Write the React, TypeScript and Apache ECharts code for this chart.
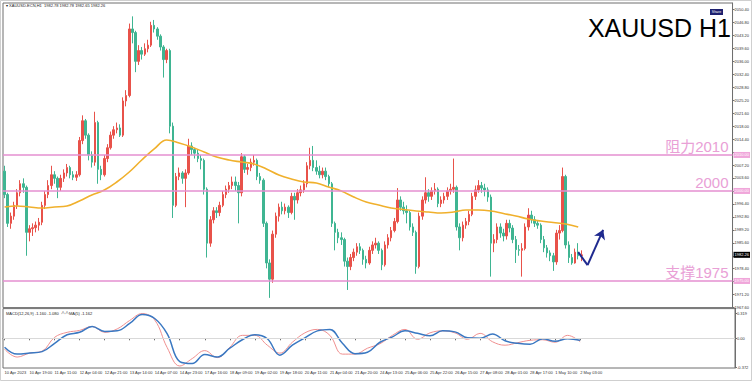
import React, { useEffect, useRef } from "react";
import * as echarts from "echarts";

// ---------- data ----------
const tickLabels = [
  "10 Apr 2023", "10 Apr 19:00", "11 Apr 11:00", "12 Apr 04:00", "12 Apr 21:00", "13 Apr 14:00",
  "14 Apr 07:00", "14 Apr 23:00", "17 Apr 16:00", "18 Apr 09:00", "19 Apr 02:00", "19 Apr 18:00",
  "20 Apr 11:00", "21 Apr 04:00", "21 Apr 20:00", "24 Apr 13:00", "25 Apr 06:00", "25 Apr 22:00",
  "26 Apr 15:00", "27 Apr 08:00", "28 Apr 01:00", "28 Apr 17:00", "1 May 10:00", "2 May 03:00",
];

const priceTicks = [
  1967.6, 1971.2, 1974.8, 1978.4, 1982.0, 1985.6, 1989.2, 1992.8, 1996.4, 2000.0, 2003.6, 2007.2,
  2010.8, 2014.4, 2018.0, 2021.6, 2025.2, 2028.8, 2032.4, 2036.0, 2039.6, 2043.2, 2046.8, 2050.4,
];

const opens = [
  2005.5, 1999, 1991, 1993, 1996, 1999.5, 2002, 2001, 1988.5, 1989.5, 1989.8, 1990.5, 1991.3, 1996, 1999, 2001.5,
  2004.5, 2003.5, 2001, 2003.5, 2005, 2006.5, 2004.5, 2003.8, 2004.5, 2014, 2019.5, 2015.5, 2010, 2008, 2019, 2006,
  2004.5, 2009, 2012, 2015.5, 2017, 2017.5, 2015.5, 2025, 2026.5, 2045, 2044, 2036, 2039, 2038, 2039.5, 2040.5,
  2046, 2045, 2043, 2040, 2036.5, 2039, 2018, 1996, 2004, 2005, 2003.5, 2005, 2012.5, 2011.5, 2010.5, 2009,
  2008.5, 2000.5, 1985.5, 1992, 1994.5, 1994, 1996, 1999, 2000.5, 2001.5, 2002.5, 2001.5, 1999.5, 2009.5, 2006, 2006.5,
  2008, 2008.5, 2004, 2003, 1991, 1980, 1975.5, 1988, 1993, 1995.5, 1994.5, 1995.5, 1994, 1998.5, 1997.5, 1999.5,
  2000.3, 2002, 2007, 2008.5, 2006.5, 2005.5, 2004.5, 2005.5, 2004, 2002, 1991, 1988.5, 1987, 1986.5, 1980.5, 1979,
  1981.5, 1983, 1984.5, 1983.5, 1981, 1980, 1983.5, 1985, 1985.5, 1983.5, 1979.5, 1985, 1987, 1989, 1991.5, 1997.5,
  1995.5, 1994.5, 1994, 1990, 1988.5, 1979, 1993, 1997.5, 1999.5, 1998.5, 2000, 2000.5, 1996.5, 1997.5, 1998.5, 2000,
  2000.5, 2001, 1990, 1987, 1990.5, 1991.5, 1993.5, 1998.5, 2000.3, 2001.5, 2000.8, 2000.3, 1998.3, 1985.5, 1986.5, 1990,
  1988.3, 1987.5, 1991, 1989.7, 1986.5, 1983.7, 1983.5, 1984, 1990, 1993.3, 1992, 1991, 1990.5, 1986.5, 1984.2, 1982.8,
  1982, 1980.3, 1988.3, 1989, 2004, 1985, 1981.5, 1980, 1983, 1982,
];
const closes = [
  1999, 1991, 1993, 1996, 1999.5, 2002, 2001, 1988.5, 1989.5, 1989.8, 1990.5, 1991.3, 1996, 1999, 2001.5, 2004.5,
  2003.5, 2001, 2003.5, 2005, 2006.5, 2004.5, 2003.8, 2004.5, 2014, 2019.5, 2015.5, 2010, 2008, 2019, 2006, 2004.5,
  2009, 2012, 2015.5, 2017, 2017.5, 2015.5, 2025, 2026.5, 2045, 2044, 2036, 2039, 2038, 2039.5, 2040.5, 2046,
  2045, 2043, 2040, 2036.5, 2039, 2018, 1996, 2004, 2005, 2003.5, 2005, 2012.5, 2011.5, 2010.5, 2009, 2008.5,
  2000.5, 1985.5, 1992, 1994.5, 1994, 1996, 1999, 2000.5, 2001.5, 2002.5, 2001.5, 1999.5, 2009.5, 2006, 2006.5, 2008,
  2008.5, 2004, 2003, 1991, 1980, 1975.5, 1988, 1993, 1995.5, 1994.5, 1995.5, 1994, 1998.5, 1997.5, 1999.5, 2000.3,
  2002, 2007, 2008.5, 2006.5, 2005.5, 2004.5, 2005.5, 2004, 2002, 1991, 1988.5, 1987, 1986.5, 1980.5, 1979, 1981.5,
  1983, 1984.5, 1983.5, 1981, 1980, 1983.5, 1985, 1985.5, 1983.5, 1979.5, 1985, 1987, 1989, 1991.5, 1997.5, 1995.5,
  1994.5, 1994, 1990, 1988.5, 1979, 1993, 1997.5, 1999.5, 1998.5, 2000, 2000.5, 1996.5, 1997.5, 1998.5, 2000, 2000.5,
  2001, 1990, 1987, 1990.5, 1991.5, 1993.5, 1998.5, 2000.3, 2001.5, 2000.8, 2000.3, 1998.3, 1985.5, 1986.5, 1990, 1988.3,
  1987.5, 1991, 1989.7, 1986.5, 1983.7, 1983.5, 1984, 1990, 1993.3, 1992, 1991, 1990.5, 1986.5, 1984.2, 1982.8, 1982,
  1980.3, 1988.3, 1989, 2004, 1985, 1981.5, 1980, 1983, 1982, 1982.26,
];
const highs = [
  2007, 1999.5, 1994, 1997, 2000.5, 2003, 2003.5, 2001.5, 1990.5, 1991, 1991.5, 1992.5, 1997, 2000, 2003, 2007,
  2005.5, 2004, 2004.5, 2006, 2007.5, 2007, 2005.5, 2005.5, 2015, 2021, 2020, 2016, 2011, 2022, 2019.5, 2007,
  2010, 2013, 2016.5, 2018, 2019, 2018.5, 2026, 2028, 2046.5, 2048.5, 2044.5, 2040.5, 2040, 2041, 2042, 2047,
  2047.5, 2045.5, 2043.5, 2040.5, 2039.5, 2039.5, 2019, 2005, 2006.5, 2005.5, 2006, 2014.5, 2013.5, 2012, 2011.5, 2010,
  2009, 2001, 1993, 1995.5, 1995.5, 1997, 2000, 2001.5, 2002.5, 2004, 2004, 2002.5, 2010.5, 2010, 2007.5, 2009,
  2010, 2009, 2005, 2003.5, 1991.5, 1981, 1989, 1994, 1996.5, 1997, 1996.5, 1996, 1999.5, 1999.5, 2000.5, 2001.5,
  2003, 2008, 2012, 2012.5, 2008.5, 2007, 2006.5, 2006.5, 2004.5, 2002.5, 1991.5, 1989.5, 1988.5, 1987, 1981.5, 1982.5,
  1984, 1985.5, 1985.5, 1984, 1982, 1984.5, 1986, 1987, 1986, 1984, 1986, 1988, 1990, 1992.5, 2000.8, 1998.5,
  1997, 1996, 1994.5, 1991, 1989, 1994, 1998.5, 2003.8, 2000.5, 2001, 2002.2, 2001, 1998.5, 1999.5, 2001, 2002,
  2009, 2001.5, 1991, 1991.5, 1992.5, 1994.5, 1999.5, 2001.5, 2003, 2002.5, 2002, 2001, 1999, 1988, 1991, 1991,
  1989.5, 1992, 1992, 1990.5, 1987.5, 1985, 1985.5, 1991, 1995.2, 1994.5, 1993, 1991.8, 1991, 1987.5, 1985, 1983.5,
  1982.8, 1989.2, 1990.5, 2006.5, 2004.5, 1986, 1982.5, 1984, 1985.5, 1983.5,
];
const lows = [
  1998, 1990, 1989.5, 1992, 1995, 1998.5, 1999.5, 1982, 1986, 1987.5, 1988.5, 1989, 1990.5, 1995, 1998, 2000.5,
  2002, 1998, 2000, 2002.5, 2004, 2003.5, 2003, 2002.8, 2004, 2013, 2014.5, 2008.5, 2006.5, 2007, 2002, 2003,
  2004, 2008, 2011.5, 2014.5, 2016, 2015, 2015, 2023.5, 2026, 2041, 2033, 2035, 2036.5, 2037.5, 2038.5, 2040,
  2044, 2042, 2039, 2031.5, 2035.5, 2016, 1992.5, 1995.5, 2003, 2002, 1995.5, 2004.5, 2010, 2009, 2008, 2006,
  1999, 1981.5, 1984.5, 1991, 1992.5, 1993, 1995.5, 1998, 1999.5, 2000.5, 2000, 1991, 1998.5, 2005, 2004.5, 2005.5,
  2007, 2003, 2002, 1990, 1978.5, 1970.3, 1974.5, 1987, 1991.5, 1993.5, 1993.5, 1992.5, 1993.5, 1992, 1996.5, 1998.5,
  1999.5, 2001, 2006, 2005.5, 2004.5, 2003.5, 2003.5, 2003, 2001, 1990, 1983.5, 1985.5, 1985, 1979, 1972.5, 1978,
  1980.5, 1982, 1982.5, 1979.5, 1978.5, 1979.5, 1982.5, 1984, 1982.5, 1978, 1979, 1984, 1986, 1988.5, 1991, 1994.5,
  1993.5, 1991, 1989, 1987.5, 1977, 1978.5, 1992, 1996.5, 1997, 1997.5, 1999, 1995.5, 1995.5, 1996.5, 1997.5, 1999,
  1999.5, 1989, 1983.5, 1986, 1989.5, 1990.5, 1993, 1997.5, 1999.5, 1999.5, 1998.5, 1997, 1976.2, 1983, 1985.5, 1987,
  1986, 1986.5, 1988.5, 1985.5, 1980, 1982, 1976.2, 1983.5, 1989, 1991, 1990, 1989.5, 1985.5, 1983, 1981.5, 1980.5,
  1977.8, 1979.5, 1986.5, 1988.5, 1984, 1980, 1979.5, 1979.8, 1981, 1980.5,
];

// moving average, one reading every 4 candles
const maValues = [
  1995.54, 1995.82, 1995.54, 1995.27, 1995.54, 1995.82, 1997.21, 1998.88, 2000.26, 2002.49, 2005.27, 2008.6,
  2011.66, 2014.15, 2013.32, 2012.21, 2010.82, 2009.43, 2008.6, 2008.04, 2007.49, 2006.1, 2004.43, 2003.32,
  2002.49, 2002.21, 2001.1, 1999.99, 1998.32, 1996.93, 1996.1, 1995.27, 1994.85, 1994.43, 1994.15, 1993.88,
  1994.15, 1994.71, 1994.71, 1994.43, 1993.74, 1993.04, 1992.21, 1991.65, 1991.24, 1990.82, 1989.99,
];
// MACD panel, one reading every 4 candles
const macdBlue = [
  -0.115, -0.204, -0.191, -0.172, -0.064, 0.045, 0.077, 0.153, 0.089, 0.096, 0.191, 0.306,
  0.255, 0.057, -0.3, -0.325, -0.21, -0.242, -0.128, -0.019, 0.045, -0.006, -0.217, -0.089,
  0.006, 0.096, 0.115, -0.064, -0.198, -0.179, -0.051, 0.019, 0.096, 0.064, 0.032, 0.096,
  0.083, 0.006, 0.0, 0.057, -0.032, -0.064, -0.077, -0.006, -0.038, -0.006, -0.026,
];
const macdRed = [
  -0.14, -0.242, -0.191, -0.166, 0.013, 0.077, 0.102, 0.153, 0.077, 0.121, 0.23, 0.319,
  0.236, -0.121, -0.357, -0.261, -0.159, -0.249, -0.115, 0.038, 0.038, -0.089, -0.191, -0.051,
  0.07, 0.115, 0.038, -0.204, -0.204, -0.128, -0.07, 0.038, 0.115, -0.013, 0.07, 0.096,
  0.07, -0.013, 0.064, -0.045, -0.089, -0.057, -0.026, -0.019, -0.051, 0.038, -0.045,
];
const macdTicks = [0.319, 0, -0.372];

const levels = [2010, 2000, 1975];
const levelTexts = ["阻力2010", "2000", "支撑1975"];
const lastPrice = 1982.26;
// arrow path: [candle index, price]
const arrowPoints = [[184, 1983.0], [187, 1979.4], [192, 1989.2]];

const headerText = "▾ XAUUSD-ECN,H1  1982.78 1982.78 1982.65 1982.26";
const macdHeader = "MACD(12,26,9) -1.160 -1.080  ∧∧MA(5) -1.162";
const titleText = "XAUUSD H1";

// ---------- layout ----------
const SLOTS = 234;
const SAMPLE_STEP = 4;
const PINK = "#e58fd0";
const PINK_TEXT = "#e9a0d6";
const UP = "#e8524a";
const DOWN = "#3fb592";
const FONT = "Liberation Sans, Noto Sans CJK SC, sans-serif";

function sparse(values: number[], step: number, length: number) {
  const out: (number | null)[] = new Array(length).fill(null);
  values.forEach((v, i) => {
    if (i * step < length) out[i * step] = v;
  });
  return out;
}

export default function App() {
  const ref = useRef<HTMLDivElement>(null);

  useEffect(() => {
    document.body.style.margin = "0";
    if (!ref.current) return;
    const chart = echarts.init(ref.current, null, { renderer: "svg" });

    const categories = Array.from({ length: SLOTS }, (_, i) => String(i));
    const candleData = opens.map((o, i) => [o, closes[i], lows[i], highs[i]]);
    const nCandles = opens.length;
    const maData = sparse(maValues, SAMPLE_STEP, nCandles);
    const blueData = sparse(macdBlue, SAMPLE_STEP, nCandles);
    const redData = sparse(macdRed, SAMPLE_STEP, nCandles);
    // axis labels hidden behind the price boxes are not drawn
    const boxed = [...levels, lastPrice];
    const priceLabelTicks = priceTicks.filter((t) => boxed.every((b) => Math.abs(t - b) > 1.0));

    const transparent = "rgba(0,0,0,0)";
    const levelLines: any[] = [];
    levels.forEach((lv, i) => {
      levelLines.push({
        yAxis: lv,
        lineStyle: { color: PINK, width: 1.5, type: "solid" },
        label: {
          show: true,
          position: "end",
          distance: 1,
          formatter: () => lv.toFixed(2),
          backgroundColor: "#f0a6da",
          color: "#ffffff",
          fontSize: 4,
          fontFamily: FONT,
          padding: [1, 1],
        },
      });
      levelLines.push({
        yAxis: lv,
        lineStyle: { color: transparent, width: 0 },
        label: {
          show: true,
          position: "insideEndTop",
          distance: [4, 1],
          formatter: () => levelTexts[i],
          color: PINK_TEXT,
          fontSize: 15,
          fontFamily: FONT,
        },
      });
    });
    levelLines.push({
      yAxis: lastPrice,
      lineStyle: { color: transparent, width: 0 },
      label: {
        show: true,
        position: "end",
        distance: 1,
        formatter: () => lastPrice.toFixed(2),
        backgroundColor: "#000000",
        color: "#ffffff",
        fontSize: 4,
        fontFamily: FONT,
        padding: [1, 1],
      },
    });
    const arrowStyle = { color: "#1f2a8f", width: 2, type: "solid" };
    levelLines.push([
      { coord: arrowPoints[0], lineStyle: arrowStyle, label: { show: false } },
      { coord: arrowPoints[1] },
    ]);
    levelLines.push([
      { coord: arrowPoints[1], lineStyle: arrowStyle, label: { show: false } },
      { coord: arrowPoints[2], symbol: "arrow", symbolSize: 9 },
    ]);

    const option: any = {
      animation: false,
      backgroundColor: "#ffffff",
      grid: [
        { left: 3, right: 17, top: 3, height: 304.6, show: true, borderColor: "#6f6f6f", borderWidth: 1, backgroundColor: "#fff" },
        { left: 3, right: 17, top: 308.6, height: 59.4, show: true, borderColor: "#6f6f6f", borderWidth: 1, backgroundColor: "#fff" },
      ],
      xAxis: [
        {
          type: "category",
          gridIndex: 0,
          data: categories,
          boundaryGap: true,
          axisLine: { show: false },
          axisTick: { show: false },
          axisLabel: { show: false },
          splitLine: { show: false },
        },
        {
          type: "category",
          gridIndex: 1,
          data: categories,
          boundaryGap: true,
          axisLine: { show: true, lineStyle: { color: "#6f6f6f", width: 1 } },
          axisTick: {
            show: true,
            alignWithLabel: true,
            length: 2,
            interval: (i: number) => i % 8 === 0 && i / 8 < tickLabels.length,
            lineStyle: { color: "#6f6f6f" },
          },
          axisLabel: {
            show: true,
            interval: (i: number) => i % 8 === 0 && i / 8 < tickLabels.length,
            formatter: (_v: string, i: number) => tickLabels[i / 8] ?? "",
            align: "left",
            fontSize: 4,
            color: "#333",
            fontFamily: FONT,
            margin: 2,
          },
          splitLine: { show: false },
        },
      ],
      yAxis: [
        {
          type: "value",
          gridIndex: 0,
          position: "right",
          min: 1967.6,
          max: 2052.21,
          axisLine: { show: true, lineStyle: { color: "#6f6f6f" } },
          axisTick: { show: true, length: 2, customValues: priceTicks, lineStyle: { color: "#6f6f6f" } },
          axisLabel: {
            show: true,
            customValues: priceLabelTicks,
            formatter: (v: number) => v.toFixed(2),
            fontSize: 4,
            color: "#333",
            fontFamily: FONT,
            margin: 2,
          },
          splitLine: { show: false },
        },
        {
          type: "value",
          gridIndex: 1,
          position: "right",
          min: -0.383,
          max: 0.383,
          axisLine: { show: true, lineStyle: { color: "#6f6f6f" } },
          axisTick: { show: true, length: 2, customValues: macdTicks, lineStyle: { color: "#6f6f6f" } },
          axisLabel: {
            show: true,
            customValues: macdTicks,
            formatter: (v: number) => (v === 0 ? "0.00" : String(v)),
            fontSize: 4,
            color: "#333",
            fontFamily: FONT,
            margin: 2,
          },
          splitLine: { show: false },
        },
      ],
      series: [
        {
          type: "candlestick",
          xAxisIndex: 0,
          yAxisIndex: 0,
          data: candleData,
          barWidth: 2,
          itemStyle: { color: UP, color0: DOWN, borderColor: UP, borderColor0: DOWN, borderWidth: 1 },
          markLine: {
            silent: true,
            symbol: ["none", "none"],
            precision: 2,
            data: levelLines,
          },
          z: 2,
        },
        {
          type: "line",
          xAxisIndex: 0,
          yAxisIndex: 0,
          data: maData,
          connectNulls: true,
          smooth: 0.4,
          showSymbol: false,
          lineStyle: { color: "#f0b02c", width: 1.6 },
          z: 3,
        },
        {
          type: "line",
          xAxisIndex: 1,
          yAxisIndex: 1,
          data: redData,
          connectNulls: true,
          smooth: 0.4,
          showSymbol: false,
          lineStyle: { color: "#ef8f8f", width: 1 },
          markLine: {
            silent: true,
            symbol: ["none", "none"],
            label: { show: false },
            lineStyle: { color: "#d9d9d9", width: 1, type: "solid" },
            data: [{ yAxis: 0 }],
          },
        },
        {
          type: "line",
          xAxisIndex: 1,
          yAxisIndex: 1,
          data: blueData,
          connectNulls: true,
          smooth: 0.4,
          showSymbol: false,
          lineStyle: { color: "#3a78c2", width: 1.5 },
        },
      ],
      graphic: [
        { type: "rect", shape: { x: 0.5, y: 0.5, width: 751, height: 380 }, style: { fill: "none", stroke: "#cfcfcf", lineWidth: 1 }, silent: true },
        { type: "text", x: 6, y: 3.5, style: { text: headerText, fontSize: 4, fill: "#222", fontFamily: FONT, textVerticalAlign: "top" }, silent: true },
        { type: "text", x: 6, y: 311, style: { text: macdHeader, fontSize: 4, fill: "#222", fontFamily: FONT, textVerticalAlign: "top" }, silent: true },
        { type: "text", x: 731, y: 28, style: { text: titleText, fontSize: 25, fill: "#000", fontFamily: FONT, textAlign: "right", textVerticalAlign: "middle" }, silent: true },
        { type: "rect", shape: { x: 710, y: 9, width: 13, height: 6 }, style: { fill: "#1d1f6e" }, silent: true },
        { type: "text", x: 716.5, y: 12, style: { text: "Share", fontSize: 3.5, fill: "#fff", fontFamily: FONT, textAlign: "center", textVerticalAlign: "middle" }, silent: true },
      ],
    };

    chart.setOption(option);
    return () => chart.dispose();
  }, []);

  return <div ref={ref} style={{ width: 752, height: 381 }} />;
}
